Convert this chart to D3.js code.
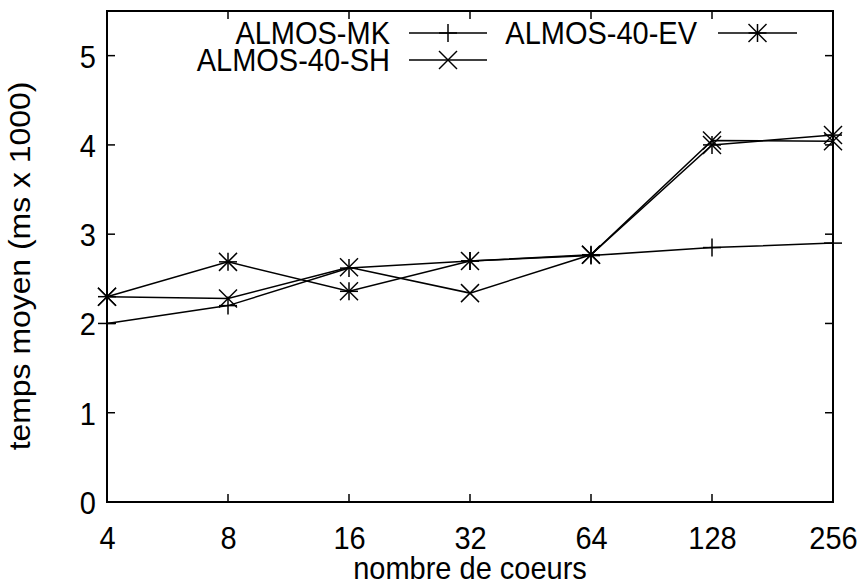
<!DOCTYPE html>
<html>
<head>
<meta charset="utf-8">
<script src="https://cdn.jsdelivr.net/npm/d3@7"></script>
<style>
  html, body { margin: 0; padding: 0; background: #fff; }
  svg { display: block; }
  text { font-family: "Liberation Sans", Arial, Helvetica, sans-serif; fill: #000; }
</style>
</head>
<body>
<svg id="chart" width="859" height="586"></svg>
<script>
// Core counts on the x axis (log2 spaced)
const cores = [4, 8, 16, 32, 64, 128, 256];

// Mean time (ms x 1000) per configuration
const almosMK   = [2.00, 2.20, 2.62, 2.70, 2.76, 2.85, 2.90];
const almos40SH = [2.30, 2.28, 2.63, 2.34, 2.77, 4.05, 4.04];
const almos40EV = [2.30, 2.69, 2.36, 2.70, 2.77, 4.00, 4.11];

const yTicks = [0, 1, 2, 3, 4, 5];
const seriesNames = ["ALMOS-MK", "ALMOS-40-SH", "ALMOS-40-EV"];

const series = [
  { name: seriesNames[0], values: almosMK,   marker: "plus" },
  { name: seriesNames[1], values: almos40SH, marker: "cross" },
  { name: seriesNames[2], values: almos40EV, marker: "star" }
];

const svg = d3.select("#chart");
const plotL = 107, plotR = 833, plotT = 11, plotB = 502;
const fontSize = 29;
const stretch = 1.1;   // glyphs are drawn slightly taller than wide

const x = d3.scaleLog().base(2).domain([4, 256]).range([plotL, plotR]);
const y = d3.scaleLinear().domain([0, 5.5]).range([plotB, plotT]);

const tickLen = 8;

// Tick marks drawn inward on all four sides
const g = svg.append("g");
yTicks.forEach(t => {
  g.append("line").attr("x1", plotL).attr("x2", plotL + tickLen)
    .attr("y1", y(t)).attr("y2", y(t)).attr("stroke", "#000").attr("stroke-width", 1.5);
  g.append("line").attr("x1", plotR).attr("x2", plotR - tickLen)
    .attr("y1", y(t)).attr("y2", y(t)).attr("stroke", "#000").attr("stroke-width", 1.5);
});
cores.forEach(c => {
  g.append("line").attr("x1", x(c)).attr("x2", x(c))
    .attr("y1", plotB).attr("y2", plotB - tickLen).attr("stroke", "#000").attr("stroke-width", 1.5);
  g.append("line").attr("x1", x(c)).attr("x2", x(c))
    .attr("y1", plotT).attr("y2", plotT + tickLen).attr("stroke", "#000").attr("stroke-width", 1.5);
});

// Axis tick labels
const yAxis = d3.axisLeft(y).tickValues(yTicks).tickSize(0).tickPadding(11).tickFormat(d3.format("d"));
const ya = svg.append("g").attr("transform", `translate(${plotL},0)`).call(yAxis);
ya.select(".domain").remove();
ya.selectAll("text").attr("font-size", fontSize).attr("font-family", null)
  .attr("dy", "0.36em").attr("transform", `scale(1,${stretch})`);

const xAxis = d3.axisBottom(x).tickValues(cores).tickSize(0).tickPadding(22).tickFormat(d3.format("d"));
const xa = svg.append("g").attr("transform", `translate(0,${plotB})`).call(xAxis);
xa.select(".domain").remove();
xa.selectAll("text").attr("font-size", fontSize).attr("font-family", null)
  .attr("dy", "0.72em").attr("transform", `scale(1,${stretch})`);

// Frame
svg.append("rect").attr("x", plotL).attr("y", plotT)
  .attr("width", plotR - plotL).attr("height", plotB - plotT)
  .attr("fill", "none").attr("stroke", "#000").attr("stroke-width", 2);

// Axis titles
svg.append("text")
  .attr("transform", `translate(${(plotL + plotR) / 2},579) scale(1,${stretch})`)
  .attr("text-anchor", "middle").attr("font-size", fontSize)
  .text("nombre de coeurs");
svg.append("text")
  .attr("transform", `translate(30,266) scale(1,${stretch}) rotate(-90)`)
  .attr("text-anchor", "middle").attr("font-size", fontSize)
  .text("temps moyen (ms x 1000)");

// Point markers
const ms = 9;
function drawMarker(sel, kind, cx, cy) {
  const segs = [];
  if (kind === "plus" || kind === "star") {
    segs.push([cx - ms, cy, cx + ms, cy], [cx, cy - ms, cx, cy + ms]);
  }
  if (kind === "cross" || kind === "star") {
    segs.push([cx - ms, cy - ms, cx + ms, cy + ms], [cx - ms, cy + ms, cx + ms, cy - ms]);
  }
  segs.forEach(s => sel.append("line")
    .attr("x1", s[0]).attr("y1", s[1]).attr("x2", s[2]).attr("y2", s[3])
    .attr("stroke", "#000").attr("stroke-width", 1.5));
}

const line = d3.line().x(d => x(d[0])).y(d => y(d[1]));
const plot = svg.append("g");
series.forEach(s => {
  const pts = cores.map((c, i) => [c, s.values[i]]);
  plot.append("path").datum(pts).attr("d", line)
    .attr("fill", "none").attr("stroke", "#000").attr("stroke-width", 1.5);
  const mg = plot.append("g");
  pts.forEach(p => drawMarker(mg, s.marker, x(p[0]), y(p[1])));
});

// Legend: two columns, right-aligned labels with sample line + marker
const legendItems = [
  { s: series[0], tx: 390, lx1: 409, lx2: 487, cy: 33 },
  { s: series[1], tx: 390, lx1: 409, lx2: 487, cy: 60 },
  { s: series[2], tx: 697, lx1: 718, lx2: 797, cy: 33 }
];
const lg = svg.append("g");
legendItems.forEach(it => {
  lg.append("text").attr("transform", `translate(${it.tx},${it.cy}) scale(1,${stretch})`)
    .attr("dy", "0.36em").attr("text-anchor", "end").attr("font-size", fontSize).text(it.s.name);
  lg.append("line").attr("x1", it.lx1).attr("x2", it.lx2)
    .attr("y1", it.cy).attr("y2", it.cy).attr("stroke", "#000").attr("stroke-width", 1.5);
  drawMarker(lg, it.s.marker, (it.lx1 + it.lx2) / 2, it.cy);
});
</script>
</body>
</html>
